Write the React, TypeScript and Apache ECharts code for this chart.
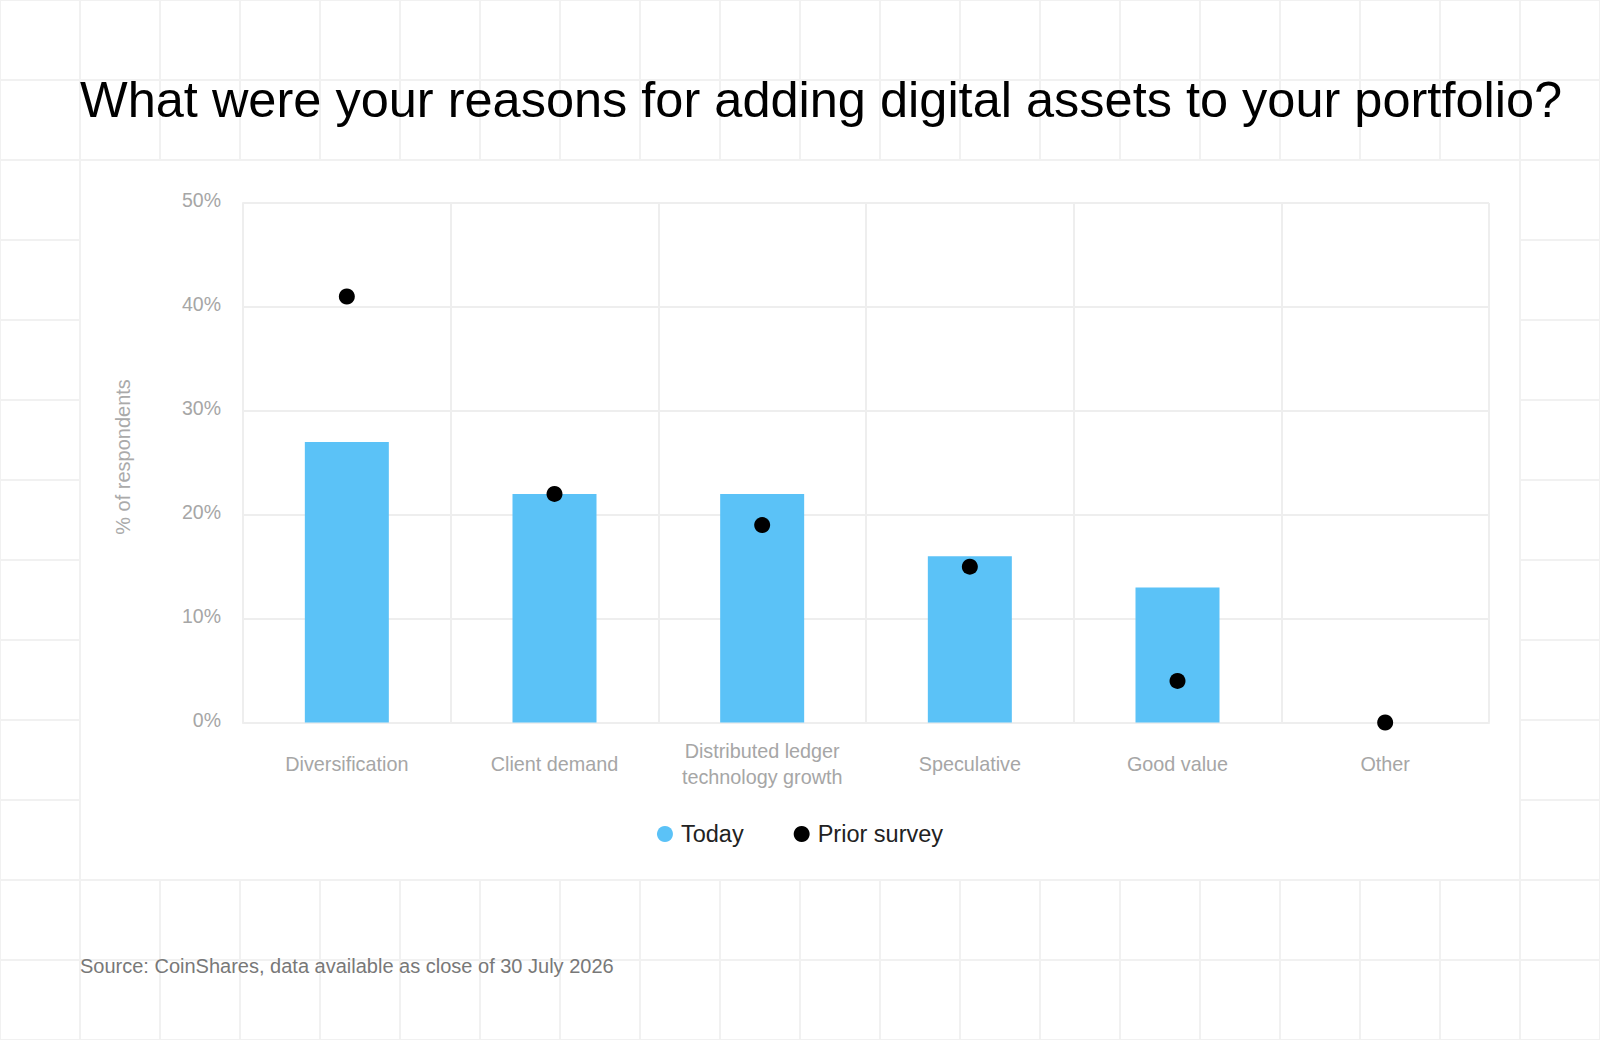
import React, { useEffect, useRef } from "react";
import * as echarts from "echarts";

const titleText = "What were your reasons for adding digital assets to your portfolio?";
const sourceText = "Source: CoinShares, data available as close of 30 July 2026";
const yAxisName = "% of respondents";
const categories = [
  "Diversification",
  "Client demand",
  "Distributed ledger\ntechnology growth",
  "Speculative",
  "Good value",
  "Other",
];
const seriesNames = ["Today", "Prior survey"];
const todayValues = [27, 22, 22, 16, 13, 0];
const priorValues = [41, 22, 19, 15, 4, 0];
const yMin = 0;
const yMax = 50;
const yStep = 10;

const FONT = "'Liberation Sans', Arial, Helvetica, sans-serif";
const W = 1600;
const H = 1040;
const CELL = 80;

function buildBackground() {
  const els: any[] = [];
  for (let i = 0; i <= W / CELL; i++) {
    els.push({
      type: "line",
      silent: true,
      z: -30,
      shape: { x1: i * CELL, y1: 0, x2: i * CELL, y2: H },
      style: { stroke: "#f1f1f1", lineWidth: 2 },
    });
  }
  for (let j = 0; j <= H / CELL; j++) {
    els.push({
      type: "line",
      silent: true,
      z: -30,
      shape: { x1: 0, y1: j * CELL, x2: W, y2: j * CELL },
      style: { stroke: "#f1f1f1", lineWidth: 2 },
    });
  }
  els.push({
    type: "rect",
    silent: true,
    z: -20,
    shape: { x: 81, y: 161, width: 1438, height: 718 },
    style: { fill: "#ffffff" },
  });
  return els;
}

export default function App() {
  const ref = useRef<HTMLDivElement>(null);

  useEffect(() => {
    if (!ref.current) return;
    const chart = echarts.init(ref.current, null, { renderer: "svg" });
    chart.setOption({
      animation: false,
      backgroundColor: "#ffffff",
      textStyle: { fontFamily: FONT },
      graphic: [
        ...buildBackground(),
        {
          type: "text",
          z: 10,
          x: 80,
          y: 99,
          style: {
            text: titleText,
            font: `400 50.5px ${FONT}`,
            fill: "#000000",
            verticalAlign: "middle",
            align: "left",
          },
        },
        {
          type: "text",
          z: 10,
          x: 80,
          y: 966,
          style: {
            text: sourceText,
            font: `400 20px ${FONT}`,
            fill: "#787878",
            verticalAlign: "middle",
            align: "left",
          },
        },
        {
          type: "text",
          z: 10,
          x: 123,
          y: 457,
          rotation: Math.PI / 2,
          style: {
            text: yAxisName,
            font: `400 20px ${FONT}`,
            fill: "#aaaaaa",
            verticalAlign: "middle",
            align: "center",
          },
        },
      ],
      grid: {
        left: 243,
        right: W - 1489,
        top: 203,
        bottom: H - 722.5,
        containLabel: false,
      },
      legend: {
        left: "center",
        top: 817,
        itemWidth: 16,
        itemHeight: 16,
        itemGap: 50,
        textStyle: { fontSize: 23.5, color: "#222222", fontFamily: FONT, padding: [0, 0, 0, 3] },
        data: [
          { name: seriesNames[0], icon: "circle" },
          { name: seriesNames[1], icon: "circle" },
        ],
      },
      xAxis: {
        type: "category",
        data: categories,
        axisLine: { show: true, lineStyle: { color: "#eeeeee", width: 2 } },
        axisTick: { show: false },
        splitLine: { show: true, lineStyle: { color: "#eeeeee", width: 2 } },
        axisLabel: {
          interval: 0,
          color: "#a6a6a6",
          fontSize: 19.8,
          lineHeight: 26,
          margin: 41,
          verticalAlign: "middle",
          fontFamily: FONT,
        },
      },
      yAxis: {
        type: "value",
        min: yMin,
        max: yMax,
        interval: yStep,
        axisLine: { show: true, lineStyle: { color: "#eeeeee", width: 2 } },
        axisTick: { show: false },
        splitLine: { show: true, lineStyle: { color: "#eeeeee", width: 2 } },
        axisLabel: {
          formatter: "{value}%",
          color: "#a6a6a6",
          fontSize: 19.5,
          margin: 22,
          verticalAlign: "bottom",
          lineHeight: 6,
          fontFamily: FONT,
        },
      },
      series: [
        {
          name: seriesNames[0],
          type: "bar",
          data: todayValues,
          barWidth: 84,
          itemStyle: { color: "#5bc2f7", opacity: 1 },
          z: 2,
        },
        {
          name: seriesNames[1],
          type: "scatter",
          data: priorValues,
          symbol: "circle",
          symbolSize: 16,
          itemStyle: { color: "#000000", opacity: 1 },
          z: 5,
        },
      ],
    });
    return () => chart.dispose();
  }, []);

  return (
    <div
      ref={ref}
      style={{ position: "absolute", left: 0, top: 0, width: W, height: H }}
    />
  );
}
